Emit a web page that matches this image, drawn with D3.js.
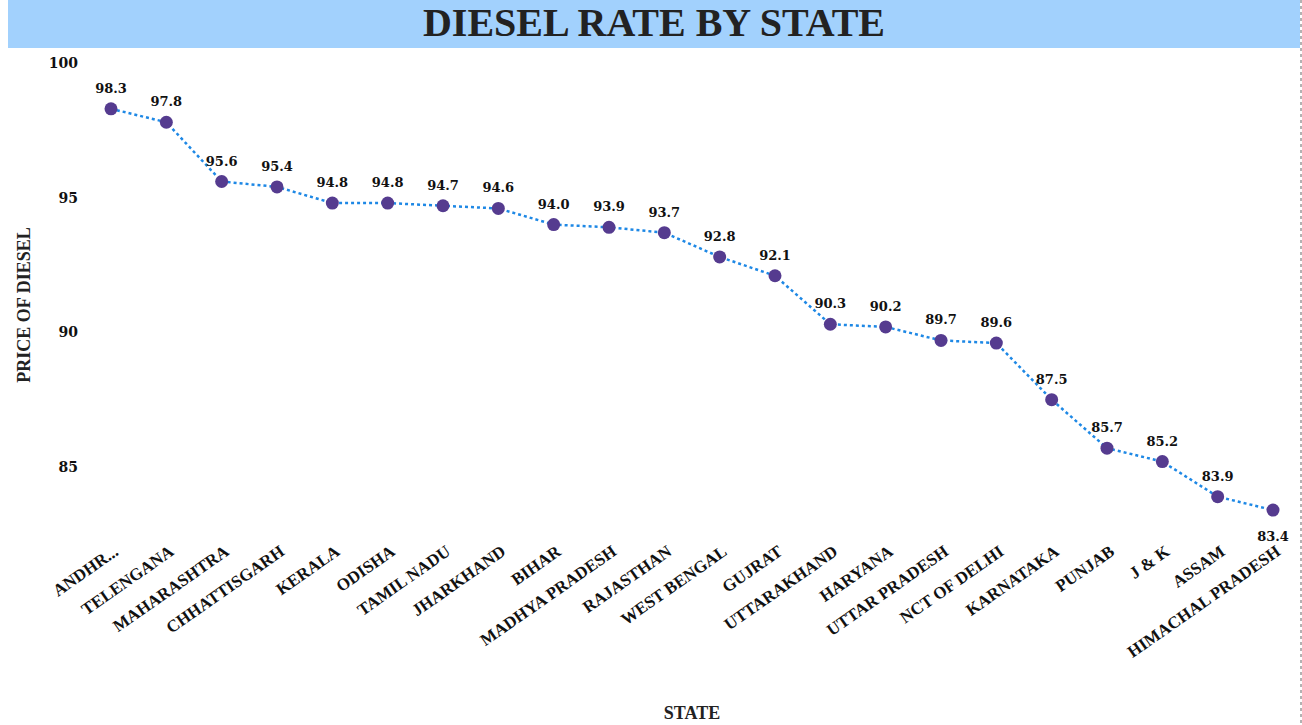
<!DOCTYPE html>
<html><head><meta charset="utf-8">
<script src="https://cdn.jsdelivr.net/npm/d3@7"></script>
<style>body{margin:0;background:#fff}</style>
</head><body><div id="canvas"></div>
<script>
const states = ["ANDHR...","TELENGANA","MAHARASHTRA","CHHATTISGARH","KERALA","ODISHA","TAMIL NADU","JHARKHAND","BIHAR","MADHYA PRADESH","RAJASTHAN","WEST BENGAL","GUJRAT","UTTARAKHAND","HARYANA","UTTAR PRADESH","NCT OF DELHI","KARNATAKA","PUNJAB","J & K","ASSAM","HIMACHAL PRADESH"]
const prices = [98.3,97.8,95.6,95.4,94.8,94.8,94.7,94.6,94.0,93.9,93.7,92.8,92.1,90.3,90.2,89.7,89.6,87.5,85.7,85.2,83.9,83.4]
const yTicks = [85,90,95,100]

const width = 1302, height = 725
const font = "'Liberation Serif', serif"
const svg = d3.select("#canvas").append("svg").attr("width", width).attr("height", height)

svg.append("rect").attr("x", 8).attr("y", 0).attr("width", 1292).attr("height", 48).style("fill", "#a2d1fd")
svg.append("line").attr("x1", 1301).attr("x2", 1301).attr("y1", 0).attr("y2", height)
    .style("stroke", "#666").style("stroke-dasharray", "3,3")
svg.append("text").attr("x", 654).attr("y", 36).attr("text-anchor", "middle")
    .style("font-family", font).style("font-weight", "bold").style("font-size", "40px").style("fill", "#222")
    .text("DIESEL RATE BY STATE")

const x = d3.scalePoint().domain(states).range([111, 1273])
const y = d3.scaleLinear().domain([85, 100]).range([467, 63])

const data = states.map((s, i) => ({name: s, value: prices[i]}))

const yAxis = svg.append("g").attr("transform", "translate(80,0)")
    .call(d3.axisLeft(y).tickValues(yTicks).tickSize(0).tickPadding(2))
yAxis.select(".domain").remove()
yAxis.selectAll("text").style("font-family", "'DejaVu Serif', serif").style("font-weight", "bold")
    .style("font-size", "14px").style("fill", "#111")

const xAxis = svg.append("g").attr("transform", "translate(0,548)")
    .call(d3.axisBottom(x).tickSize(0))
xAxis.select(".domain").remove()
xAxis.selectAll("text")
    .attr("text-anchor", "end").attr("dy", 0).attr("y", 0)
    .attr("transform", "translate(8,6) rotate(-35)")
    .style("font-family", font).style("font-weight", "bold").style("font-size", "17px").style("fill", "#111")

svg.append("path").datum(data)
    .attr("d", d3.line().x(d => x(d.name)).y(d => y(d.value)))
    .style("fill", "none").style("stroke", "#1e88e5").style("stroke-width", 2.5).style("stroke-dasharray", "3,3")

svg.selectAll("circle").data(data).enter().append("circle")
    .attr("cx", d => x(d.name)).attr("cy", d => y(d.value)).attr("r", 6.5)
    .style("fill", "#553b8f")

svg.selectAll(".lbl").data(data).enter().append("text").attr("class", "lbl")
    .attr("x", d => x(d.name))
    .attr("y", (d, i) => i === data.length - 1 ? y(d.value) + 31 : y(d.value) - 16)
    .attr("text-anchor", "middle")
    .style("font-family", "'DejaVu Serif', serif").style("font-weight", "bold").style("font-size", "13px").style("fill", "#111")
    .text(d => d.value.toFixed(1))

svg.append("text").attr("transform", "translate(30,305) rotate(-90)").attr("text-anchor", "middle")
    .style("font-family", font).style("font-weight", "bold").style("font-size", "18px").style("fill", "#222")
    .text("PRICE OF DIESEL")
svg.append("text").attr("x", 692).attr("y", 719).attr("text-anchor", "middle")
    .style("font-family", font).style("font-weight", "bold").style("font-size", "18px").style("fill", "#222")
    .text("STATE")
</script></body></html>
